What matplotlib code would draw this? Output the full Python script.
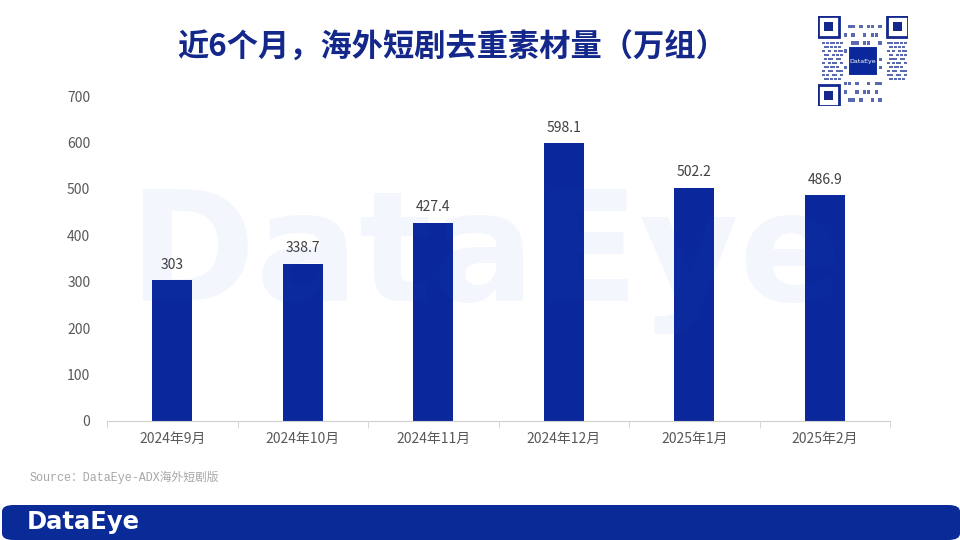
import matplotlib.pyplot as plt
from matplotlib.patches import Rectangle, FancyBboxPatch

plt.rcParams['font.family'] = ['Noto Sans CJK SC', 'DejaVu Sans']

months = ['2024年9月', '2024年10月', '2024年11月', '2024年12月', '2025年1月', '2025年2月']
values = [303, 338.7, 427.4, 598.1, 502.2, 486.9]
labels = ['303', '338.7', '427.4', '598.1', '502.2', '486.9']
y_ticks = [0, 100, 200, 300, 400, 500, 600, 700]

bar_color = '#0a289c'
navy = '#13288a'

fig = plt.figure(figsize=(9.6, 5.4), dpi=100)
W, H = 960, 540

ax = fig.add_axes([107 / W, 1 - 421 / H, (890 - 107) / W, (421 - 96) / H])
x = list(range(len(months)))
ax.bar(x, values, width=0.31, color=bar_color, zorder=2)
for xi, v, lab in zip(x, values, labels):
    ax.text(xi, v + 18, lab, ha='center', va='bottom', fontsize=10, color='#404040')

ax.set_xlim(-0.5, len(months) - 0.5)
ax.set_ylim(0, 700)
ax.set_yticks(y_ticks)
ax.set_xticks(x)
ax.set_xticklabels(months)
ax.tick_params(axis='y', length=0, labelsize=10, labelcolor='#595959', pad=12)
ax.tick_params(axis='x', length=0, labelsize=10, labelcolor='#595959', pad=8)
# tick marks between categories
ax.set_xticks([i - 0.5 for i in range(len(months) + 1)], minor=True)
ax.tick_params(axis='x', which='minor', length=5, color='#d0d0d0')
for s in ['top', 'right', 'left']:
    ax.spines[s].set_visible(False)
ax.spines['bottom'].set_color('#d0d0d0')

# watermark
fig.text(0.506, 0.52, 'DataEye', fontsize=110, fontweight='bold', color='#1e50c8',
         alpha=0.05, ha='center', va='center', family='DejaVu Sans', zorder=5)

# title
fig.text(452 / W, 1 - 48 / H, '近6个月，海外短剧去重素材量（万组）', fontsize=22.5,
         fontweight='bold', color=navy, ha='center', va='center')

# source
fig.text(30 / W, 1 - 477 / H, 'Source：DataEye-ADX海外短剧版', fontsize=8.5,
         color='#a6a6a6', ha='left', va='center',
         family=['Liberation Mono', 'Noto Sans CJK SC'])

# footer band
fig.patches.append(FancyBboxPatch((2 / W, 0), (W - 2) / W, 35 / H,
                                  boxstyle='round,pad=0,rounding_size=0.012',
                                  transform=fig.transFigure, facecolor='#0a2a98',
                                  edgecolor='none'))
fig.text(27 / W, 1 - 522 / H, 'DataEye', fontsize=17.5, fontweight='bold', color='white',
         ha='left', va='center', family='DejaVu Sans')

# QR-code placeholder
qax = fig.add_axes([818 / W, 1 - 106 / H, 90 / W, 90 / H])
qax.set_xlim(0, 21)
qax.set_ylim(0, 21)
qax.axis('off')
for cx, cy in [(0, 0), (0, 16), (16, 16)]:
    qax.add_patch(Rectangle((cx, cy), 5, 5, facecolor='white', edgecolor=navy, lw=2))
    qax.add_patch(Rectangle((cx + 1.5, cy + 1.5), 2, 2, facecolor=navy, edgecolor='none'))
pattern = ['0110100101', '1001011010', '1101001011', '0010110100', '1011010011',
           '0101101001', '1100100110', '0011011001', '1010010110', '0110101101']
for r, row in enumerate(pattern):
    for c, bit in enumerate(row):
        if bit == '1':
            qax.add_patch(Rectangle((6 + c * 0.9, 1 + r * 1.9), 0.8, 0.8, facecolor='#5a6ab0',
                                    edgecolor='none'))
            qax.add_patch(Rectangle((1 + r * 0.45, 6 + c * 0.95), 0.7, 0.5, facecolor='#5a6ab0',
                                    edgecolor='none'))
            qax.add_patch(Rectangle((16 + r * 0.45, 6 + c * 0.95), 0.7, 0.5, facecolor='#5a6ab0',
                                    edgecolor='none'))
qax.add_patch(Rectangle((7, 7), 7, 7, facecolor=bar_color, edgecolor='white', lw=1.5, zorder=3))
qax.text(10.5, 10.5, 'DataEye', fontsize=4.5, color='white', ha='center', va='center', zorder=4,
         family='DejaVu Sans')

fig.savefig('out.png', dpi=100)
